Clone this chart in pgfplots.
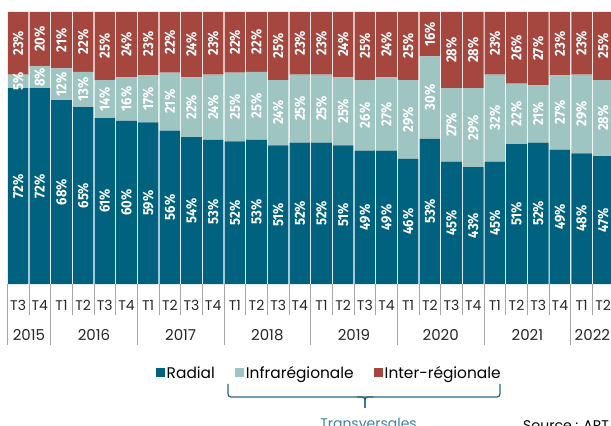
\documentclass[border=0pt]{standalone}
\usepackage{fontspec}
\usepackage{graphicx}
\usepackage{pgfplots}
\pgfplotsset{compat=1.18}
\usepackage{pgfplotstable}
\newfontfamily\lblfont{Fira Sans}
\newfontfamily\adv{Poppins}
\definecolor{rad}{HTML}{00627F}
\definecolor{infra}{HTML}{9FC5C2}
\definecolor{inter}{HTML}{A5473F}
\definecolor{bracec}{HTML}{2B6585}
\definecolor{trans}{HTML}{3A82A6}
\definecolor{sepc}{HTML}{A6A6A6}
\pgfplotstableread{
x r i e
0 72 5 23
1 72 8 20
2 67.6 11.7 20.7
3 65 13 22
4 61 14 25
5 60 16 24
6 59.4 17.3 23.3
7 56.4 21.3 22.3
8 54 22 24
9 53 24 23
10 52.4 25.3 22.3
11 53 25 22
12 51 24 25
13 52 25 23
14 52 25 23
15 51 25 24
16 49 26 25
17 49 27 24
18 46 29 25
19 53.4 30.3 16.3
20 45 27 28
21 43 29 28
22 45 32 23
23 51.4 22.3 26.3
24 52 21 27
25 49.4 27.3 23.3
26 48 29 23
27 47 28 25
}\data
\begin{document}
\begin{tikzpicture}[x=1pt,y=1pt]
\useasboundingbox (0,0) rectangle (611,426);
\clip (0,0) rectangle (611,426);
\begin{axis}[
  at={(7.3pt,142pt)}, anchor=south west, scale only axis,
  width=650.1pt, height=272pt,
  xmin=-0.5, xmax=29.5, ymin=0, ymax=100,
  ybar stacked, bar width=20.6pt, clip=false,
  hide y axis, axis x line*=bottom, x axis line style={draw=none},
  tick align=outside,
  xtick={0,...,27},
  xticklabels={T3,T4,T1,T2,T3,T4,T1,T2,T3,T4,T1,T2,T3,T4,T1,T2,T3,T4,T1,T2,T3,T4,T1,T2,T3,T4,T1,T2},
  major tick length=0pt,
  minor xtick={-0.5,0.5,...,28.5},
  minor tick length=31pt,
  tick style={draw=sepc, line width=0.8pt},
  extra x ticks={-0.5,1.5,5.5,9.5,13.5,17.5,21.5,25.5},
  extra x tick labels={},
  extra x tick style={major tick length=61pt, tick style={draw=sepc, line width=0.8pt}},
  xticklabel style={font=\adv\fontsize{14}{15}\selectfont, text=black!85, anchor=center, yshift=-21pt},
  legend columns=3,
  legend style={at={(axis description cs:0.2288,-0.327)}, anchor=west, draw=none, fill=none, inner sep=0pt,
    font=\adv\fontsize{15.4}{16}\selectfont, nodes={inner sep=1.5pt},
    /tikz/every even column/.append style={column sep=19pt}},
  legend image code/.code={\fill[#1, draw=none] (0pt,-4.5pt) rectangle (9pt,4.5pt);},
]
\addplot[fill=rad, draw=none] table[x=x,y=r]{\data};
\addplot[fill=infra, draw=none] table[x=x,y=i]{\data};
\addplot[fill=inter, draw=none] table[x=x,y=e]{\data};
\legend{Radial, Infrarégionale, Inter-régionale}
\foreach \yr/\pos in {2015/0.5, 2016/3.5, 2017/7.5, 2018/11.5, 2019/15.5, 2020/19.5, 2021/23.5, 2022/26.5}{
  \edef\tmp{\noexpand\node[font=\noexpand\adv\noexpand\fontsize{15}{16}\noexpand\selectfont, text=black!85, yshift=-51pt] at (axis cs:\pos,0) {\yr};}\tmp
}
\end{axis}
\begin{axis}[
  at={(7.3pt,142pt)}, anchor=south west, scale only axis,
  width=650.1pt, height=272pt,
  xmin=-0.5, xmax=29.5, ymin=0, ymax=100,
  hide axis, clip=false,
  point meta=explicit,
  nodes near coords={\scalebox{0.9}[1]{\pgfmathprintnumber[fixed,precision=0,assume math mode=true]{\pgfplotspointmeta}\%}},
  every node near coord/.style={rotate=90, anchor=center, text=white, inner sep=0pt,
    font=\lblfont\bfseries\fontsize{14.5}{14.5}\selectfont},
]
\addplot[draw=none, mark=none] table[x=x, y expr=\thisrow{r}/2, meta=r]{\data};
\addplot[draw=none, mark=none] table[x=x, y expr=\thisrow{r}+\thisrow{i}/2, meta=i]{\data};
\addplot[draw=none, mark=none] table[x=x, y expr=\thisrow{r}+\thisrow{i}+\thisrow{e}/2, meta=e]{\data};
\end{axis}
\draw[bracec, line width=1.3pt, rounded corners=3pt] (228,42) -- (228,29) -- (500,29) -- (500,42);
\draw[bracec, line width=1.3pt, rounded corners=3pt] (357,29) -- (365,29) -- (365,18);
\draw[bracec, line width=1.3pt, rounded corners=3pt] (373,29) -- (365,29) -- (365,18);
\node[anchor=base, font=\adv\fontsize{14}{15}\selectfont, text=trans, inner sep=0pt] at (368.5,-2) {Transversales};
\node[anchor=base west, font=\adv\fontsize{14}{15}\selectfont, text=black, inner sep=0pt] at (523,-5) {Source : ART};
\end{tikzpicture}
\end{document}
